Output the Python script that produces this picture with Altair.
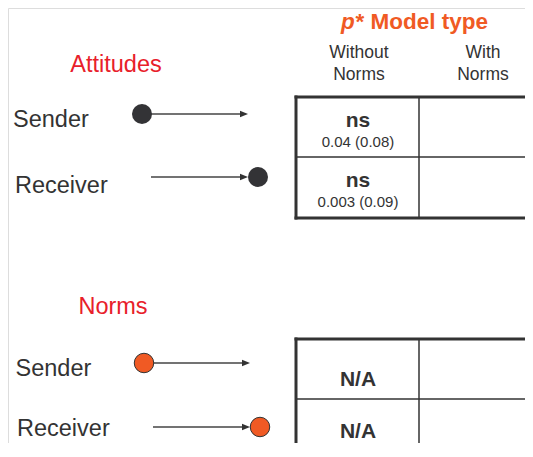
import altair as alt
import pandas as pd

# ---------------- data ----------------
W, H = 517, 435          # plot area (image px 8..525, 8..443)

title_italic = "p"
title_rest = "* Model type"

model_types = ["Without\nNorms", "With\nNorms"]
model_x = [359, 483]
model_y = [58, 58]

sections = ["Attitudes", "Norms"]
section_x = [116, 113]
section_y = [72, 314]

roles = ["Sender", "Receiver", "Sender", "Receiver"]
role_x = [13, 15, 15.5, 17]
role_y = [127, 193, 376, 436]

node_group = ["Attitudes", "Attitudes", "Norms", "Norms"]
node_x = [142, 258, 144, 260]
node_y = [114, 177, 363, 427]

arrow_start = [142, 151, 144, 153]
arrow_tip = [248, 248, 250, 250]
arrow_y = [114, 177, 363, 427]

sig_labels = ["ns", "ns", "N/A", "N/A"]
sig_x = [358, 358, 358, 358]
sig_y = [126.5, 186.5, 386, 438]

estimates = ["0.04 (0.08)", "0.003 (0.09)"]
est_x = [358, 358]
est_y = [146.5, 206.5]

# table grid lines
h_x1 = [296, 296, 296, 296, 296]
h_x2 = [540, 540, 540, 540, 540]
h_y = [97, 157, 218, 339, 399]
h_thick = [True, False, True, True, False]

v_x = [296, 419, 296, 419]
v_y1 = [97, 97, 339, 339]
v_y2 = [218, 218, 470, 470]
v_thick = [True, False, True, False]

# ---------------- chart ----------------
FONT = "Liberation Sans"
DARK = "#333333"
RED = "#e8202a"
ORANGE = "#f05a24"

xs = alt.Scale(domain=[8, 8 + W], nice=False, zero=False)
ys = alt.Scale(domain=[8, 8 + H], nice=False, zero=False, reverse=True)


def X(f):
    return alt.X(f, type="quantitative", scale=xs, axis=None)


def Y(f):
    return alt.Y(f, type="quantitative", scale=ys, axis=None)


hl = pd.DataFrame({"x": h_x1, "x2": h_x2, "y": h_y, "thick": h_thick})
vl = pd.DataFrame({"x": v_x, "y": v_y1, "y2": v_y2, "thick": v_thick})

h_thick_l = alt.Chart(hl[hl.thick]).mark_rule(
    color=DARK, strokeWidth=3, strokeCap="square", clip=True
).encode(x=X("x"), x2="x2", y=Y("y"))
h_thin_l = alt.Chart(hl[~hl.thick]).mark_rule(
    color=DARK, strokeWidth=1.5, clip=True
).encode(x=X("x"), x2="x2", y=Y("y"))
v_thick_l = alt.Chart(vl[vl.thick]).mark_rule(
    color=DARK, strokeWidth=3, strokeCap="square", clip=True
).encode(x=X("x"), y=Y("y"), y2="y2")
v_thin_l = alt.Chart(vl[~vl.thick]).mark_rule(
    color=DARK, strokeWidth=1.5, clip=True
).encode(x=X("x"), y=Y("y"), y2="y2")

arrows = pd.DataFrame({"x": arrow_start, "tip": arrow_tip, "y": arrow_y})
arrows["end"] = arrows["tip"] - 4
arrows["head"] = arrows["tip"] - 4

lines_l = alt.Chart(arrows).mark_rule(color="#444444", strokeWidth=1.3).encode(
    x=X("x"), x2="end", y=Y("y")
)
heads_l = alt.Chart(arrows).mark_point(
    shape="M-1,-0.8L1,0L-1,0.8Z", filled=True, size=64, color="#333333", opacity=1
).encode(x=X("head"), y=Y("y"))

nodes = pd.DataFrame({"x": node_x, "y": node_y, "g": node_group})
dark_nodes = alt.Chart(nodes[nodes.g == "Attitudes"]).mark_point(
    shape="circle", filled=True, size=400, color="#333336", opacity=1
).encode(x=X("x"), y=Y("y"))
orange_nodes = alt.Chart(nodes[nodes.g == "Norms"]).mark_point(
    shape="circle", filled=True, size=380, fill=ORANGE, stroke="#333333",
    strokeWidth=1, opacity=1
).encode(x=X("x"), y=Y("y"))

title_p = alt.Chart(pd.DataFrame({"x": [341], "y": [28.5], "t": [title_italic]})).mark_text(
    font=FONT, fontSize=22.5, fontWeight="bold", fontStyle="italic", color=ORANGE,
    align="left", baseline="alphabetic"
).encode(x=X("x"), y=Y("y"), text="t")
title_r = alt.Chart(pd.DataFrame({"x": [355.5], "y": [28.5], "t": [title_rest]})).mark_text(
    font=FONT, fontSize=22.5, fontWeight="bold", color=ORANGE,
    align="left", baseline="alphabetic"
).encode(x=X("x"), y=Y("y"), text="t")

heads_txt = alt.Chart(pd.DataFrame({"x": model_x, "y": model_y, "t": model_types})).mark_text(
    font=FONT, fontSize=17.5, color=DARK, align="center", baseline="alphabetic",
    lineBreak="\n", lineHeight=22
).encode(x=X("x"), y=Y("y"), text="t")

sec_txt = alt.Chart(pd.DataFrame({"x": section_x, "y": section_y, "t": sections})).mark_text(
    font=FONT, fontSize=23.5, color=RED, align="center", baseline="alphabetic"
).encode(x=X("x"), y=Y("y"), text="t")

role_txt = alt.Chart(pd.DataFrame({"x": role_x, "y": role_y, "t": roles})).mark_text(
    font=FONT, fontSize=23.5, color=DARK, align="left", baseline="alphabetic"
).encode(x=X("x"), y=Y("y"), text="t")

sig_txt = alt.Chart(pd.DataFrame({"x": sig_x, "y": sig_y, "t": sig_labels})).mark_text(
    font=FONT, fontSize=21, fontWeight="bold", color=DARK, align="center",
    baseline="alphabetic"
).encode(x=X("x"), y=Y("y"), text="t")

est_txt = alt.Chart(pd.DataFrame({"x": est_x, "y": est_y, "t": estimates})).mark_text(
    font=FONT, fontSize=15, color=DARK, align="center", baseline="alphabetic"
).encode(x=X("x"), y=Y("y"), text="t")

chart = alt.layer(
    h_thin_l, v_thin_l, h_thick_l, v_thick_l,
    lines_l, heads_l, dark_nodes, orange_nodes,
    title_p, title_r, heads_txt, sec_txt, role_txt, sig_txt, est_txt,
).properties(
    width=W, height=H, padding=0, autosize=alt.AutoSizeParams(type="none")
).configure_view(strokeWidth=0, stroke="transparent").configure(background="white")

chart.save("out.html", embed_options={"renderer": "svg", "actions": False})
